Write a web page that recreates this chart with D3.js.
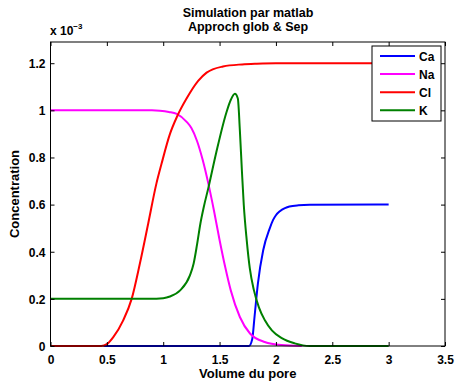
<!DOCTYPE html>
<html>
<head>
<meta charset="utf-8">
<script src="https://cdn.jsdelivr.net/npm/d3@7"></script>
<style>
  html, body { margin: 0; padding: 0; background: #fff; overflow: hidden; }
  #chart svg { display: block; }
  svg text { font-family: "Liberation Sans", Arial, sans-serif; font-weight: bold; fill: #000; }
</style>
</head>
<body>
<div id="chart"></div>
<script>
// data (concentration in units of 1e-3)
const caX = [0.47, 1.76, 1.79, 1.81, 1.84, 1.887, 1.946, 1.975, 2.0, 2.035, 2.08, 2.12, 2.2, 2.3, 3.0];
const caY = [0, 0, 0.03, 0.123, 0.265, 0.406, 0.5, 0.535, 0.555, 0.572, 0.585, 0.592, 0.597, 0.599, 0.6];

const naX = [0, 0.9, 0.97, 1.05, 1.12, 1.21, 1.25, 1.3, 1.35, 1.4, 1.45, 1.5, 1.55, 1.6, 1.68, 1.77, 1.9, 2.05, 2.23];
const naY = [1, 1, 0.998, 0.993, 0.985, 0.95, 0.925, 0.87, 0.79, 0.69, 0.575, 0.45, 0.335, 0.235, 0.123, 0.053, 0.017, 0.004, 0];

const clX = [0, 0.45, 0.5, 0.557, 0.645, 0.72, 0.793, 0.867, 0.94, 0.985, 1.06, 1.124, 1.207, 1.31, 1.385, 1.53, 1.7, 1.83, 2.0, 3.0];
const clY = [0, 0, 0.008, 0.038, 0.109, 0.2, 0.35, 0.52, 0.69, 0.773, 0.9, 0.975, 1.05, 1.125, 1.16, 1.186, 1.195, 1.198, 1.2, 1.2];

const kX = [0, 0.88, 1.0, 1.06, 1.15, 1.237, 1.27, 1.3, 1.33, 1.36, 1.4, 1.47, 1.56, 1.6, 1.636, 1.662, 1.68, 1.698, 1.715, 1.741, 1.768, 1.805, 1.849, 1.902, 1.964, 2.052, 2.167, 2.3, 3.0];
const kY = [0.2, 0.2, 0.203, 0.21, 0.236, 0.3, 0.35, 0.43, 0.52, 0.59, 0.67, 0.82, 0.99, 1.045, 1.07, 1.05, 0.915, 0.745, 0.597, 0.448, 0.33, 0.236, 0.164, 0.109, 0.066, 0.033, 0.011, 0, 0];

const seriesNames = ["Ca", "Na", "Cl", "K"];
const seriesColors = ["#0000ff", "#ff00ff", "#ff0000", "#008000"];
const xTicks = [0, 0.5, 1, 1.5, 2, 2.5, 3, 3.5];
const yTicks = [0, 0.2, 0.4, 0.6, 0.8, 1, 1.2];

const width = 456, height = 381;
const margin = { top: 42, right: 11, bottom: 35, left: 50.5 };
const innerWidth = width - margin.left - margin.right;
const innerHeight = height - margin.top - margin.bottom;
const fontFamily = "'Liberation Sans', Arial, sans-serif";

const svg = d3.select("#chart").append("svg")
    .attr("width", width)
    .attr("height", height);

const root = svg.append("g")
    .attr("transform", `translate(${margin.left},${margin.top})`);

const x = d3.scaleLinear().domain([0, 3.5]).range([0, innerWidth]);
const y = d3.scaleLinear().domain([0, 1.29]).range([innerHeight, 0]);

// curves, in matlab plot order
const series = [
    { xs: caX, ys: caY },
    { xs: naX, ys: naY },
    { xs: clX, ys: clY },
    { xs: kX, ys: kY }
];

const line = d3.line()
    .x(d => x(d[0]))
    .y(d => y(d[1]))
    .curve(d3.curveMonotoneX);

series.forEach((s, i) => {
    root.append("path")
        .datum(s.xs.map((v, j) => [v, s.ys[j]]))
        .attr("fill", "none")
        .attr("stroke", seriesColors[i])
        .attr("stroke-width", 2)
        .attr("d", line);
});

// axes, ticks inward like matlab
const fmt = d => d3.format("~g")(d);
root.append("g")
    .attr("transform", `translate(0,${innerHeight})`)
    .call(d3.axisBottom(x).tickValues(xTicks).tickSize(-4).tickPadding(9).tickFormat(fmt))
    .attr("font-size", 12)
    .attr("font-family", fontFamily)
    .attr("font-weight", "bold")
    .attr("fill", "#000")
    .call(g => g.select(".domain").remove())
    .call(g => g.selectAll(".tick text").attr("dy", null).attr("y", 17.5));
root.append("g")
    .call(d3.axisTop(x).tickValues(xTicks).tickSize(-4).tickFormat(""))
    .call(g => g.select(".domain").remove());
root.append("g")
    .call(d3.axisLeft(y).tickValues(yTicks).tickSize(-4).tickPadding(5).tickFormat(fmt))
    .attr("font-size", 12)
    .attr("font-family", fontFamily)
    .attr("font-weight", "bold")
    .attr("fill", "#000")
    .call(g => g.select(".domain").remove())
    .call(g => g.selectAll(".tick text").attr("dy", null).attr("y", 4.3));
root.append("g")
    .attr("transform", `translate(${innerWidth},0)`)
    .call(d3.axisRight(y).tickValues(yTicks).tickSize(-4).tickFormat(""))
    .call(g => g.select(".domain").remove());

root.append("rect")
    .attr("width", innerWidth)
    .attr("height", innerHeight)
    .attr("fill", "none")
    .attr("stroke", "#000")
    .attr("stroke-width", 1);

// legend
const legend = root.append("g")
    .attr("transform", `translate(${372 - margin.left},${46 - margin.top})`);
legend.append("rect")
    .attr("width", 69)
    .attr("height", 75)
    .attr("fill", "#fff")
    .attr("stroke", "#000");
seriesNames.forEach((name, i) => {
    const ly = 10 + i * 18.1;
    legend.append("line")
        .attr("x1", 8).attr("x2", 43)
        .attr("y1", ly).attr("y2", ly)
        .attr("stroke", seriesColors[i])
        .attr("stroke-width", 2);
    legend.append("text")
        .attr("x", 47)
        .attr("y", ly + 4.5)
        .attr("font-size", 12)
        .text(name);
});

// titles
svg.append("text")
    .attr("x", 248).attr("y", 17)
    .attr("text-anchor", "middle")
    .attr("font-size", 12.5)
    .text("Simulation par matlab");
svg.append("text")
    .attr("x", 248).attr("y", 31)
    .attr("text-anchor", "middle")
    .attr("font-size", 12.5)
    .text("Approch glob & Sep");

const expo = svg.append("text")
    .attr("x", 50).attr("y", 35)
    .attr("font-size", 12);
expo.append("tspan").text("x 10");
expo.append("tspan").attr("dy", -6).attr("font-size", 8).text("\u22123");

svg.append("text")
    .attr("x", margin.left + innerWidth / 2).attr("y", 378)
    .attr("text-anchor", "middle")
    .attr("font-size", 13)
    .text("Volume du pore");

svg.append("text")
    .attr("transform", `translate(19,${margin.top + innerHeight / 2}) rotate(-90)`)
    .attr("text-anchor", "middle")
    .attr("font-size", 13)
    .text("Concentration");
</script>
</body>
</html>
